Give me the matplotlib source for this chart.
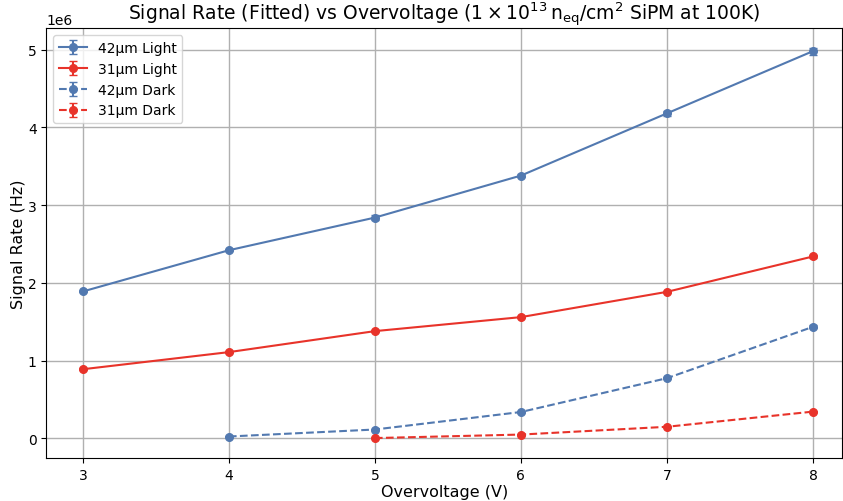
import matplotlib
matplotlib.use("Agg")
import matplotlib.pyplot as plt

overvoltage = [3, 4, 5, 6, 7, 8]

light_42 = [1.89e6, 2.42e6, 2.84e6, 3.38e6, 4.18e6, 4.98e6]
light_42_err = [0.01e6, 0.015e6, 0.03e6, 0.015e6, 0.035e6, 0.045e6]
light_31 = [0.89e6, 1.11e6, 1.38e6, 1.56e6, 1.885e6, 2.34e6]
light_31_err = [0.01e6, 0.01e6, 0.01e6, 0.01e6, 0.015e6, 0.02e6]

dark_v42 = [4, 5, 6, 7, 8]
dark_42 = [0.025e6, 0.115e6, 0.34e6, 0.775e6, 1.435e6]
dark_42_err = [0.005e6, 0.005e6, 0.01e6, 0.01e6, 0.02e6]
dark_v31 = [5, 6, 7, 8]
dark_31 = [0.005e6, 0.05e6, 0.15e6, 0.345e6]
dark_31_err = [0.003e6, 0.005e6, 0.005e6, 0.01e6]

blue = '#5279b0'
red = '#e8332a'

fig = plt.figure(figsize=(8.43, 5.02), dpi=100)
ax = fig.add_axes([0.055, 0.086, 0.944, 0.856])

ax.errorbar(overvoltage, light_42, yerr=light_42_err, fmt='o-', color=blue,
            markersize=5.5, capsize=3, label='42µm Light')
ax.errorbar(overvoltage, light_31, yerr=light_31_err, fmt='o-', color=red,
            markersize=5.5, capsize=3, label='31µm Light')
ax.errorbar(dark_v42, dark_42, yerr=dark_42_err, fmt='o--', color=blue,
            markersize=5.5, capsize=3, label='42µm Dark')
ax.errorbar(dark_v31, dark_31, yerr=dark_31_err, fmt='o--', color=red,
            markersize=5.5, capsize=3, label='31µm Dark')

ax.set_xlim(2.75, 8.2)
ax.set_xlabel('Overvoltage (V)', fontsize=11.5, labelpad=2)
ax.set_ylabel('Signal Rate (Hz)', fontsize=11.5, labelpad=1)
ax.set_title(r'Signal Rate (Fitted) vs Overvoltage ($1 \times 10^{13}\,\mathrm{n_{eq}/cm^2}$ SiPM at 100K)',
             fontsize=13.5)
ax.grid(True, color='#b0b0b0', linewidth=1)
ax.legend(loc='upper left', fontsize=10)

fig.savefig('out.png', dpi=100)
